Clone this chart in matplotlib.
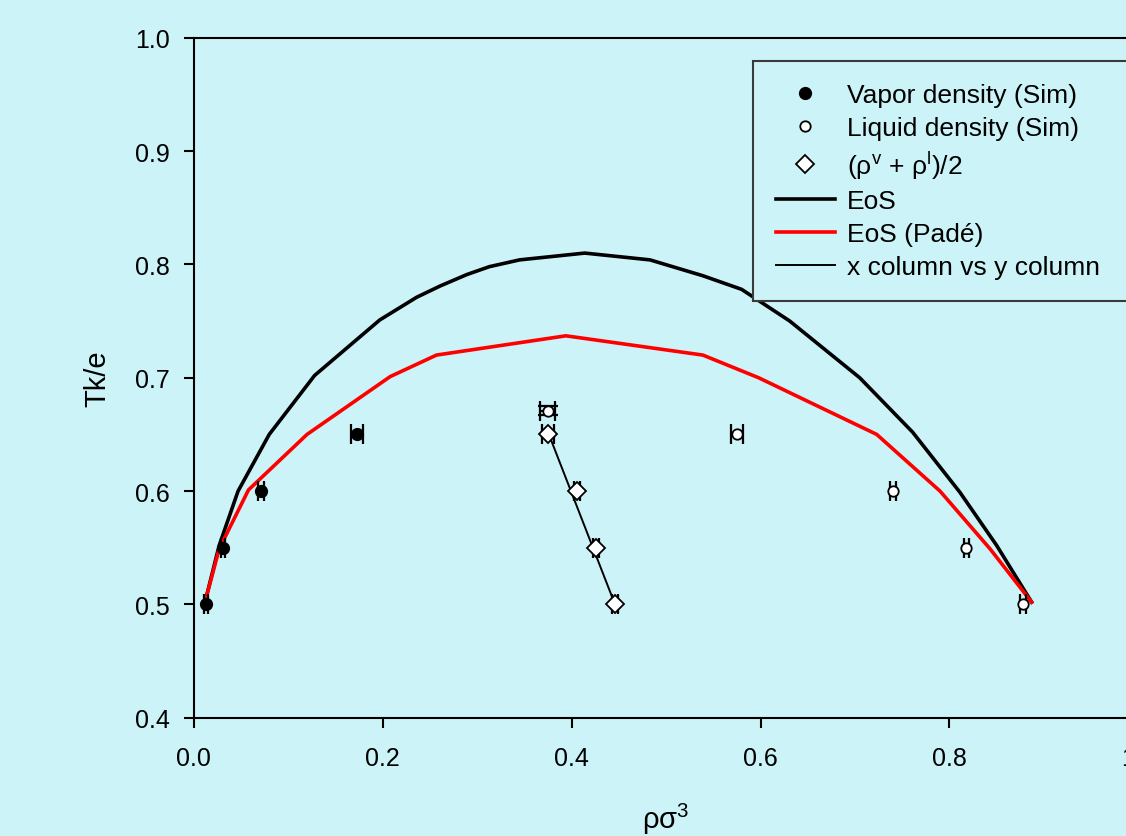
import matplotlib
matplotlib.use("Agg")
import matplotlib.pyplot as plt
from matplotlib.lines import Line2D

plt.rcParams.update({
    "font.family": ["Liberation Sans", "DejaVu Sans"],
    "font.size": 18,
    "mathtext.fontset": "custom",
    "mathtext.rm": "Liberation Sans",
    "mathtext.it": "Liberation Sans",
})

BG = "#ccf3f8"

# simulation data
temps = [0.50, 0.55, 0.60, 0.65]
rho_vap = [0.013, 0.031, 0.071, 0.173]
rho_vap_err = [0.002, 0.002, 0.003, 0.006]
rho_liq = [0.878, 0.818, 0.740, 0.575]
rho_liq_err = [0.003, 0.003, 0.003, 0.006]
rho_mid = [0.446, 0.426, 0.406, 0.375]
rho_mid_err = [0.003, 0.003, 0.003, 0.006]

# extrapolated critical point
crit_rho = [0.375]
crit_t = [0.671]
crit_rho_err = [0.008]
crit_t_err = [0.004]

# rectilinear diameter fit
fit_rho = [0.376, 0.446]
fit_t = [0.65, 0.50]

# equation of state curves
eos_rho = [0.012, 0.027, 0.047, 0.080, 0.128, 0.197, 0.236, 0.261, 0.289, 0.313,
           0.345, 0.414, 0.483, 0.539, 0.580, 0.631, 0.705, 0.761, 0.811, 0.850, 0.887]
eos_t = [0.502, 0.552, 0.600, 0.650, 0.702, 0.751, 0.771, 0.781, 0.791, 0.798,
         0.804, 0.810, 0.804, 0.790, 0.778, 0.750, 0.700, 0.652, 0.599, 0.552, 0.502]

pade_rho = [0.012, 0.027, 0.058, 0.120, 0.208, 0.257, 0.394, 0.539, 0.598, 0.723,
            0.790, 0.843, 0.887]
pade_t = [0.502, 0.549, 0.601, 0.650, 0.701, 0.720, 0.737, 0.720, 0.700, 0.650,
          0.600, 0.549, 0.502]

fig = plt.figure(figsize=(11.26, 8.37), dpi=100, facecolor=BG)
ax = fig.add_axes([0.172, 0.1413, 0.839, 0.8124], facecolor=BG)

ax.plot(eos_rho, eos_t, color="black", lw=2.6, zorder=2)
ax.plot(pade_rho, pade_t, color="red", lw=2.6, zorder=2)
ax.plot(fit_rho, fit_t, color="black", lw=1.4, zorder=2)

eb = dict(fmt="none", ecolor="black", elinewidth=1.6, capsize=7, capthick=1.6, zorder=3)
ax.errorbar(rho_vap, temps, xerr=rho_vap_err, **eb)
ax.errorbar(rho_liq, temps, xerr=rho_liq_err, **eb)
ax.errorbar(rho_mid, temps, xerr=rho_mid_err, **eb)
ax.errorbar(crit_rho, crit_t, xerr=crit_rho_err, yerr=crit_t_err, **eb)

ax.plot(rho_vap, temps, "o", ms=8.5, mfc="black", mec="black", zorder=4)
ax.plot(rho_liq, temps, "o", ms=7.5, mfc="white", mec="black", mew=1.3, zorder=4)
ax.plot(rho_mid, temps, "D", ms=9.5, mfc="white", mec="black", mew=1.3, zorder=4)
ax.plot(crit_rho, crit_t, "o", ms=7.5, mfc="white", mec="black", mew=1.3, zorder=4)

ax.set_xlim(0, 1.0)
ax.set_ylim(0.4, 1.0)
ax.set_xticks([0.0, 0.2, 0.4, 0.6, 0.8, 1.0])
ax.set_xticklabels(["0.0", "0.2", "0.4", "0.6", "0.8", "1.0"])
ax.set_yticks([0.4, 0.5, 0.6, 0.7, 0.8, 0.9, 1.0])
ax.set_yticklabels(["0.4", "0.5", "0.6", "0.7", "0.8", "0.9", "1.0"])
ax.tick_params(direction="out", length=7, width=1.5, labelsize=18)
ax.tick_params(axis="x", pad=13.5)
ax.tick_params(axis="y", pad=10)
for sp in ax.spines.values():
    sp.set_linewidth(1.5)

ax.set_xlabel(r"ρσ$^\mathregular{3}$", fontsize=21, labelpad=22)
ax.set_ylabel("Tk/e", fontsize=21, labelpad=17)

handles = [
    Line2D([], [], ls="none", marker="o", ms=8.5, mfc="black", mec="black"),
    Line2D([], [], ls="none", marker="o", ms=7.5, mfc="white", mec="black", mew=1.3),
    Line2D([], [], ls="none", marker="D", ms=9, mfc="white", mec="black", mew=1.3),
    Line2D([], [], color="black", lw=2.6),
    Line2D([], [], color="red", lw=2.6),
    Line2D([], [], color="black", lw=1.4),
]
labels = [
    "Vapor density (Sim)",
    "Liquid density (Sim)",
    r"(ρ$^\mathregular{v}$ + ρ$^\mathregular{l}$)/2",
    "EoS",
    "EoS (Padé)",
    "x column vs y column",
]
x0, y0, x1, y1 = 753.3, 61.7, 1140, 300.7
leg = fig.legend(handles, labels, loc="upper left",
                 bbox_to_anchor=(x0 / 1126, 1 - y1 / 837, (x1 - x0) / 1126, (y1 - y0) / 837),
                 mode="expand", fontsize=19, handlelength=2.25, handletextpad=0.45,
                 labelspacing=0.33, borderpad=0.85, borderaxespad=0,
                 fancybox=False, framealpha=1, facecolor=BG, edgecolor="#3a3a3a")
leg.get_frame().set_linewidth(1.5)

fig.savefig("out.png", dpi=100, facecolor=BG)
